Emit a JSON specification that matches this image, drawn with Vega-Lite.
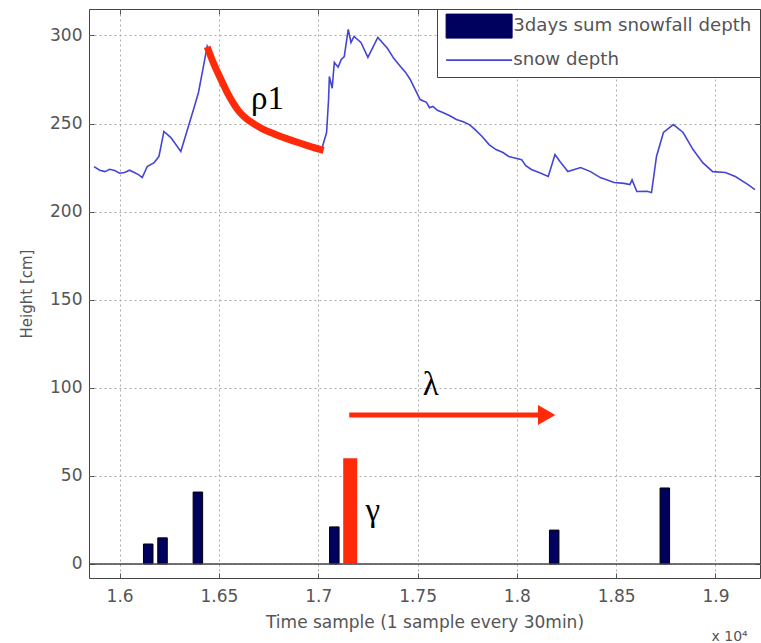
{
  "$schema": "https://vega.github.io/schema/vega-lite/v6.json",
  "width": 671,
  "height": 569,
  "autosize": {"type": "none"},
  "padding": {"left": 89, "top": 9, "right": 1, "bottom": 65},
  "background": "white",
  "config": {
    "view": {"stroke": "#444", "strokeWidth": 1},
    "axis": {
      "labelFont": "DejaVu Sans", "labelFontSize": 17, "labelColor": "#555",
      "titleFont": "DejaVu Sans", "titleFontSize": 17, "titleFontWeight": "normal", "titleColor": "#555",
      "tickColor": "#555", "tickSize": -5, "domain": false,
      "gridColor": "#aaa", "gridDash": [2, 3], "gridOpacity": 1
    }
  },
  "datasets": {
    "snow": [
      {"t": 15871, "depth": 225.5}, {"t": 15900, "depth": 223.5}, {"t": 15926, "depth": 222.7}, {"t": 15950, "depth": 224},
      {"t": 15975, "depth": 223.3}, {"t": 16000, "depth": 221.8},
      {"t": 16025, "depth": 222.2}, {"t": 16050, "depth": 223.5}, {"t": 16074, "depth": 222.2}, {"t": 16095, "depth": 221},
      {"t": 16114, "depth": 219.3},
      {"t": 16139, "depth": 225.6}, {"t": 16174, "depth": 227.8}, {"t": 16198, "depth": 231.3},
      {"t": 16223, "depth": 245.5}, {"t": 16258, "depth": 242}, {"t": 16308, "depth": 234.1},
      {"t": 16337, "depth": 244.9}, {"t": 16372, "depth": 258}, {"t": 16397, "depth": 267.6},
      {"t": 16422, "depth": 282.4}, {"t": 16441, "depth": 293.8}, {"t": 16470, "depth": 286},
      {"t": 16506, "depth": 279}, {"t": 16540, "depth": 271}, {"t": 16570, "depth": 264},
      {"t": 16600, "depth": 258}, {"t": 16635, "depth": 253}, {"t": 16680, "depth": 250},
      {"t": 16719, "depth": 247}, {"t": 16770, "depth": 244.5}, {"t": 16818, "depth": 242},
      {"t": 16870, "depth": 240}, {"t": 16918, "depth": 238}, {"t": 16970, "depth": 236.5},
      {"t": 17017, "depth": 235.2}, {"t": 17042, "depth": 244.9}, {"t": 17052, "depth": 263.6},
      {"t": 17056, "depth": 276.7}, {"t": 17070, "depth": 270}, {"t": 17081, "depth": 284.7}, {"t": 17100, "depth": 282},
      {"t": 17116, "depth": 286.4},
      {"t": 17131, "depth": 288}, {"t": 17151, "depth": 303.4}, {"t": 17165, "depth": 296}, {"t": 17180, "depth": 299.4},
      {"t": 17215, "depth": 296}, {"t": 17250, "depth": 287.5}, {"t": 17300, "depth": 298.9},
      {"t": 17349, "depth": 292.6}, {"t": 17380, "depth": 287}, {"t": 17414, "depth": 282.4}, {"t": 17440, "depth": 279},
      {"t": 17463, "depth": 275},
      {"t": 17513, "depth": 263.6}, {"t": 17545, "depth": 262}, {"t": 17560, "depth": 259}, {"t": 17577, "depth": 259.7},
      {"t": 17600, "depth": 257.5}, {"t": 17627, "depth": 256.3}, {"t": 17660, "depth": 254.5},
      {"t": 17696, "depth": 252.3}, {"t": 17730, "depth": 251}, {"t": 17761, "depth": 249.4}, {"t": 17790, "depth": 246.5},
      {"t": 17825, "depth": 242.6}, {"t": 17860, "depth": 238},
      {"t": 17895, "depth": 235.2}, {"t": 17930, "depth": 233.5}, {"t": 17959, "depth": 231.3}, {"t": 18024, "depth": 229.5},
      {"t": 18045, "depth": 226}, {"t": 18073, "depth": 223.9}, {"t": 18115, "depth": 222}, {"t": 18158, "depth": 219.9},
      {"t": 18192, "depth": 232.4},
      {"t": 18217, "depth": 228.4}, {"t": 18257, "depth": 222.7}, {"t": 18321, "depth": 225},
      {"t": 18371, "depth": 222.7}, {"t": 18420, "depth": 219.3}, {"t": 18490, "depth": 216.5},
      {"t": 18540, "depth": 216}, {"t": 18569, "depth": 215.3}, {"t": 18580, "depth": 218}, {"t": 18604, "depth": 211.4},
      {"t": 18655, "depth": 211.5},
      {"t": 18678, "depth": 210.8}, {"t": 18703, "depth": 231.3}, {"t": 18738, "depth": 244.9},
      {"t": 18788, "depth": 249.4}, {"t": 18837, "depth": 244.9}, {"t": 18887, "depth": 235.2},
      {"t": 18936, "depth": 227.8}, {"t": 18986, "depth": 222.7}, {"t": 19050, "depth": 222.2},
      {"t": 19100, "depth": 219.9}, {"t": 19164, "depth": 215.3}, {"t": 19199, "depth": 212.5}
    ],
    "snowfall": [
      {"t": 16144, "v": 11.3}, {"t": 16216, "v": 14.8}, {"t": 16394, "v": 40.8},
      {"t": 17081, "v": 21}, {"t": 18188, "v": 19.2}, {"t": 18745, "v": 43.1}
    ],
    "curve": [
      {"t": 16441, "v": 293.5}, {"t": 16470, "v": 285}, {"t": 16506, "v": 276},
      {"t": 16540, "v": 268}, {"t": 16570, "v": 262}, {"t": 16600, "v": 257},
      {"t": 16635, "v": 253}, {"t": 16680, "v": 249.5}, {"t": 16719, "v": 247},
      {"t": 16770, "v": 244.5}, {"t": 16818, "v": 242.3}, {"t": 16870, "v": 240.3},
      {"t": 16918, "v": 238.5}, {"t": 16970, "v": 236.6}, {"t": 17027, "v": 234.8}
    ],
    "arrow": [{"t": 17156, "t2": 18110, "v": 84.5}],
    "arrowhead": [{"t": 18150, "v": 84.5}],
    "gamma": [{"t": 17161, "v": 0, "v2": 60}],
    "greek": [
      {"t": 16744, "v": 264, "text": "ρ1"},
      {"t": 17567, "v": 101.5, "text": "λ"},
      {"t": 17275, "v": 30, "text": "γ"}
    ],
    "note": [{"t": 18980, "v": -43.5, "text": "x 10⁴"}]
  },
  "layer": [
    {
      "data": {"name": "snow"},
      "mark": {"type": "line", "strokeWidth": 1.6},
      "encoding": {
        "x": {
          "field": "t", "type": "quantitative",
          "scale": {"domain": [15871, 19199], "nice": false, "zero": false},
          "axis": {
            "orient": "bottom", "values": [16000, 16500, 17000, 17500, 18000, 18500, 19000],
            "labelExpr": "format(datum.value/10000, '.3~f')",
            "title": "Time sample (1 sample every 30min)",
            "grid": true, "labelPadding": 15, "titlePadding": 10
          }
        },
        "y": {
          "field": "depth", "type": "quantitative",
          "scale": {"domain": [-8, 315], "nice": false, "zero": false},
          "axis": {
            "orient": "left", "values": [0, 50, 100, 150, 200, 250, 300],
            "title": "Height [cm]", "grid": true, "labelPadding": 12, "titlePadding": 15,
            "titleFontSize": 15
          }
        },
        "color": {
          "datum": "snow depth", "type": "nominal",
          "scale": {"domain": ["3days sum snowfall depth", "snow depth"], "range": ["#00005e", "#4545d5"]},
          "legend": {
            "title": null, "orient": "top-right", "offset": 0, "padding": 8, "rowPadding": 9,
            "symbolSize": 576, "labelOffset": 50, "labelFont": "DejaVu Sans", "labelFontSize": 18.2,
            "labelColor": "#555", "labelLimit": 400, "fillColor": "#ffffff", "strokeColor": "#444",
            "encode": {
              "symbols": {
                "update": {
                  "shape": {"signal": "datum.value === 'snow depth' ? 'M-0.667,0H4.833' : 'M-0.667,-1H4.833V1H-0.667Z'"},
                  "fill": {"signal": "datum.value === 'snow depth' ? 'transparent' : '#00005e'"},
                  "stroke": {"signal": "datum.value === 'snow depth' ? '#4545d5' : '#000000'"},
                  "strokeWidth": {"signal": "datum.value === 'snow depth' ? 1.6 : 1"},
                  "opacity": {"value": 1}
                }
              }
            }
          }
        }
      }
    },
    {
      "data": {"name": "snowfall"},
      "mark": {"type": "bar", "size": 9.5, "stroke": "#000", "strokeWidth": 1, "orient": "vertical"},
      "encoding": {
        "x": {
          "field": "t", "type": "quantitative",
          "axis": {"orient": "top", "values": [16000, 16500, 17000, 17500, 18000, 18500, 19000], "labels": false, "grid": false, "title": null}
        },
        "y": {
          "field": "v", "type": "quantitative",
          "axis": {"orient": "right", "values": [0, 50, 100, 150, 200, 250, 300], "labels": false, "grid": false, "title": null}
        },
        "color": {"datum": "3days sum snowfall depth", "type": "nominal"}
      }
    },
    {
      "data": {"values": [{}]},
      "mark": {"type": "rule", "color": "#444", "strokeWidth": 1.5},
      "encoding": {"y": {"datum": 0, "type": "quantitative", "axis": null}}
    },
    {
      "data": {"name": "curve"},
      "mark": {"type": "line", "color": "#ff2a0a", "strokeWidth": 7, "strokeCap": "butt", "interpolate": "monotone"},
      "encoding": {
        "x": {"field": "t", "type": "quantitative", "axis": null},
        "y": {"field": "v", "type": "quantitative", "axis": null}
      }
    },
    {
      "data": {"name": "arrow"},
      "mark": {"type": "rule", "color": "#ff2a0a", "strokeWidth": 5},
      "encoding": {
        "x": {"field": "t", "type": "quantitative", "axis": null},
        "x2": {"field": "t2"},
        "y": {"field": "v", "type": "quantitative", "axis": null}
      }
    },
    {
      "data": {"name": "arrowhead"},
      "mark": {"type": "point", "shape": "triangle-right", "filled": true, "color": "#ff2a0a", "opacity": 1, "size": 400},
      "encoding": {
        "x": {"field": "t", "type": "quantitative", "axis": null},
        "y": {"field": "v", "type": "quantitative", "axis": null}
      }
    },
    {
      "data": {"name": "gamma"},
      "mark": {"type": "rule", "color": "#ff2a0a", "strokeWidth": 14, "strokeCap": "butt"},
      "encoding": {
        "x": {"field": "t", "type": "quantitative", "axis": null},
        "y": {"field": "v", "type": "quantitative", "axis": null},
        "y2": {"field": "v2"}
      }
    },
    {
      "data": {"name": "greek"},
      "mark": {"type": "text", "font": "Liberation Serif", "fontSize": 33, "color": "#000", "baseline": "middle", "align": "center"},
      "encoding": {
        "x": {"field": "t", "type": "quantitative", "axis": null},
        "y": {"field": "v", "type": "quantitative", "axis": null},
        "text": {"field": "text"}
      }
    },
    {
      "data": {"name": "note"},
      "mark": {"type": "text", "font": "DejaVu Sans", "fontSize": 14, "color": "#555", "baseline": "alphabetic", "align": "left", "clip": false},
      "encoding": {
        "x": {"field": "t", "type": "quantitative", "axis": null},
        "y": {"field": "v", "type": "quantitative", "axis": null},
        "text": {"field": "text"}
      }
    }
  ]
}
